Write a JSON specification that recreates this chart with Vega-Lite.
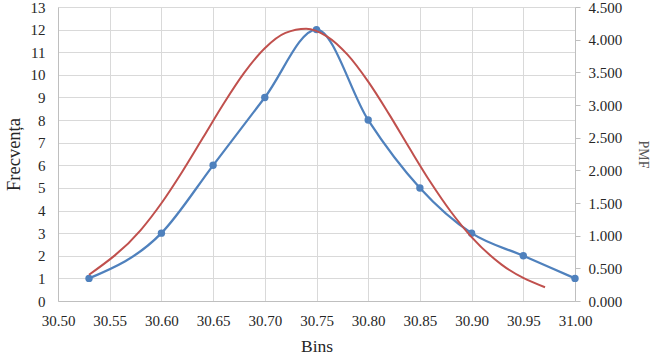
{
  "$schema": "https://vega.github.io/schema/vega-lite/v6.json",
  "width": 517,
  "height": 294,
  "autosize": "none",
  "padding": {"left": 58, "top": 7, "right": 80, "bottom": 57},
  "background": "white",
  "config": {
    "view": {"stroke": null},
    "font": "Times New Roman, Liberation Serif, serif",
    "axis": {
      "labelFont": "Times New Roman, Liberation Serif, serif",
      "titleFont": "Times New Roman, Liberation Serif, serif",
      "labelFontSize": 15,
      "titleFontSize": 16,
      "labelColor": "#262626",
      "titleColor": "#262626",
      "titleFontWeight": "normal",
      "gridColor": "#D9D9D9",
      "domainColor": "#BFBFBF",
      "tickColor": "#BFBFBF",
      "labelFlush": false,
      "labelOverlap": false
    }
  },
  "datasets": {
    "freq": [
      {"bin": 30.53, "freq": 1},
      {"bin": 30.60, "freq": 3},
      {"bin": 30.65, "freq": 6},
      {"bin": 30.70, "freq": 9},
      {"bin": 30.75, "freq": 12},
      {"bin": 30.80, "freq": 8},
      {"bin": 30.85, "freq": 5},
      {"bin": 30.90, "freq": 3},
      {"bin": 30.95, "freq": 2},
      {"bin": 31.00, "freq": 1}
    ],
    "pmf": [
      {"x": 30.53, "pmf": 0.402},
      {"x": 30.58, "pmf": 1.086},
      {"x": 30.60, "pmf": 1.496},
      {"x": 30.62, "pmf": 1.975},
      {"x": 30.64, "pmf": 2.494},
      {"x": 30.66, "pmf": 3.016},
      {"x": 30.68, "pmf": 3.492},
      {"x": 30.70, "pmf": 3.870},
      {"x": 30.72, "pmf": 4.104},
      {"x": 30.74, "pmf": 4.168},
      {"x": 30.76, "pmf": 4.051},
      {"x": 30.78, "pmf": 3.770},
      {"x": 30.80, "pmf": 3.357},
      {"x": 30.82, "pmf": 2.864},
      {"x": 30.84, "pmf": 2.337},
      {"x": 30.86, "pmf": 1.825},
      {"x": 30.88, "pmf": 1.366},
      {"x": 30.90, "pmf": 0.978},
      {"x": 30.929, "pmf": 0.557},
      {"x": 30.971, "pmf": 0.210}
    ]
  },
  "layer": [
    {
      "data": {"name": "freq"},
      "encoding": {
        "x": {
          "field": "bin", "type": "quantitative",
          "scale": {"domain": [30.5, 31.0], "nice": false, "zero": false},
          "axis": {
            "title": "Bins", "titleFontSize": 17.5,
            "values": [30.5, 30.55, 30.6, 30.65, 30.7, 30.75, 30.8, 30.85, 30.9, 30.95, 31.0],
            "format": ".2f", "ticks": false, "labelPadding": 12, "titlePadding": 9,
            "grid": true, "domain": true
          }
        },
        "y": {
          "field": "freq", "type": "quantitative",
          "scale": {"domain": [0, 13], "nice": false},
          "axis": {
            "title": "Frecvența", "titleFontSize": 18.5,
            "values": [0,1,2,3,4,5,6,7,8,9,10,11,12,13],
            "ticks": false, "labelPadding": 13, "titlePadding": 7,
            "grid": true, "domain": true
          }
        }
      },
      "layer": [
        {
          "mark": {"type": "line", "interpolate": "monotone", "color": "#4F81BD", "strokeWidth": 2.25}
        },
        {
          "mark": {"type": "point", "filled": true, "color": "#4F81BD", "size": 55, "opacity": 1}
        }
      ]
    },
    {
      "data": {"name": "pmf"},
      "mark": {"type": "line", "interpolate": "monotone", "color": "#C0504D", "strokeWidth": 2},
      "encoding": {
        "x": {"field": "x", "type": "quantitative"},
        "y": {
          "field": "pmf", "type": "quantitative",
          "scale": {"domain": [0, 4.5], "nice": false},
          "axis": {
            "title": "PMF", "orient": "right", "titleFontSize": 14, "titleColor": "#595959",
            "values": [0, 0.5, 1, 1.5, 2, 2.5, 3, 3.5, 4, 4.5],
            "format": ".3f", "ticks": true, "tickSize": 5, "labelPadding": 8,
            "titlePadding": 14, "grid": false, "domain": true
          }
        }
      }
    }
  ],
  "resolve": {"scale": {"y": "independent"}}
}
